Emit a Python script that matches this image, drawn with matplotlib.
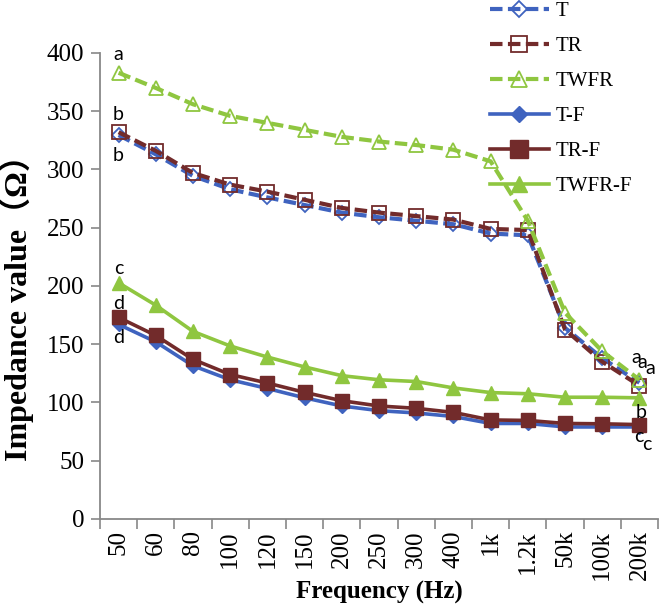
import matplotlib
matplotlib.use("Agg")
import matplotlib.pyplot as plt

# frequencies on the x axis (categorical)
freqs = ["50", "60", "80", "100", "120", "150", "200", "250", "300", "400",
         "1k", "1.2k", "50k", "100k", "200k"]

# impedance values (ohm)
t_vals = [329.5, 313, 294.5, 283, 276, 269.5, 263, 259, 256, 253, 245, 243.5, 164, 138, 117]
tr_vals = [332, 316, 297, 287, 281, 274, 267, 263, 260, 257, 249, 248, 162.6, 135, 114.5]
twfr_vals = [383, 370, 356, 346, 340, 334, 328, 324, 321, 317, 307, 256, 177, 144, 119.5]
tf_vals = [167, 152, 131.5, 119.5, 112, 104, 97, 93, 91, 88, 82, 82, 79, 79, 79]
trf_vals = [173, 157.5, 137, 124, 116.7, 108.7, 101.5, 97, 95, 91.5, 85, 84.6, 82, 81.7, 81]
twfrf_vals = [202.7, 183.5, 161, 148.5, 139, 130.5, 123, 119.5, 118, 112.5, 108.5, 107.5, 104.5, 104.5, 104]

series_names = ["T", "TR", "TWFR", "T-F", "TR-F", "TWFR-F"]

# significance letters: (series index, category index, letter, dx px, dy px)
letters = [
    (2, 0, "a", 0, 18), (1, 0, "b", 0, 18), (0, 0, "b", 0, -20),
    (5, 0, "c", 0, 14), (4, 0, "d", 0, 14), (3, 0, "d", 0, -13),
    (2, 14, "a", -3, 22), (0, 14, "a", 3, 20), (1, 14, "a", 11, 17),
    (5, 14, "b", 2, -15), (4, 14, "c", -1, -12), (3, 14, "c", 7, -18),
]

blue = "#3F63BF"
red = "#722B2B"
green = "#8FC640"

fig = plt.figure(figsize=(6.64, 6.07), dpi=100)
ax = fig.add_axes([0.1506, 0.145, 0.8404, 0.7677])

x = list(range(len(freqs)))
all_vals = [t_vals, tr_vals, twfr_vals, tf_vals, trf_vals, twfrf_vals]
colors = [blue, red, green, blue, red, green]
markers = ["D", "s", "^", "D", "s", "^"]
msizes = [7, 10, 10, 7, 10.5, 10]

handles = []
for i in range(6):
    if i < 3:
        h, = ax.plot(x, all_vals[i], color=colors[i], lw=3, dashes=(3, 1.3),
                     marker=markers[i], ms=msizes[i], mfc="none", mec=colors[i],
                     mew=1.3, label=series_names[i])
    else:
        h, = ax.plot(x, all_vals[i], color=colors[i], lw=2.6,
                     marker=markers[i], ms=msizes[i], mfc=colors[i], mec=colors[i],
                     label=series_names[i])
    handles.append(h)

px = 72.0 / fig.dpi
for si, ci, txt, dx, dy in letters:
    ax.annotate(txt, (ci, all_vals[si][ci]), xytext=(dx * px, dy * px),
                textcoords="offset points", ha="center", va="center",
                fontsize=14, family="Lato", color="black")

ax.set_xlim(-0.5, len(freqs) - 0.5)
ax.set_ylim(0, 400)
ax.set_yticks(range(0, 401, 50))
ax.set_xticks(x)
ax.set_xticklabels(freqs, rotation=90, family="Liberation Serif", fontsize=18)
ax.set_xticks([v - 0.5 for v in range(len(freqs) + 1)], minor=True)
ax.tick_params(axis="x", which="major", length=0, pad=8)
ax.tick_params(axis="x", which="minor", length=7, width=1.2, color="#888888")
ax.tick_params(axis="y", length=6.5, width=1.2, color="#888888", pad=5)
for lab in ax.get_yticklabels():
    lab.set_family("Liberation Serif")
    lab.set_fontsize(18)

for s in ["top", "right"]:
    ax.spines[s].set_visible(False)
for s in ["left", "bottom"]:
    ax.spines[s].set_color("#888888")
    ax.spines[s].set_linewidth(1.3)

ax.set_xlabel("Frequency (Hz)", family="Liberation Serif", fontsize=18,
              fontweight="bold", va="center")
ax.xaxis.set_label_coords(0.5, -0.158)
ax.set_ylabel("Impedance value（Ω）", family=["Liberation Serif", "Noto Sans CJK SC"],
              fontsize=23, fontweight="bold", va="center")
ax.yaxis.set_label_coords(-0.149, 0.47)

fig.legend(handles=handles, loc="upper left", bbox_to_anchor=(0.71, 1.028),
           frameon=False, prop={"family": "Liberation Serif", "size": 15},
           handlelength=2.8, handletextpad=0.35, labelspacing=0.74, markerscale=1.2)

fig.savefig("out.png", dpi=100)
